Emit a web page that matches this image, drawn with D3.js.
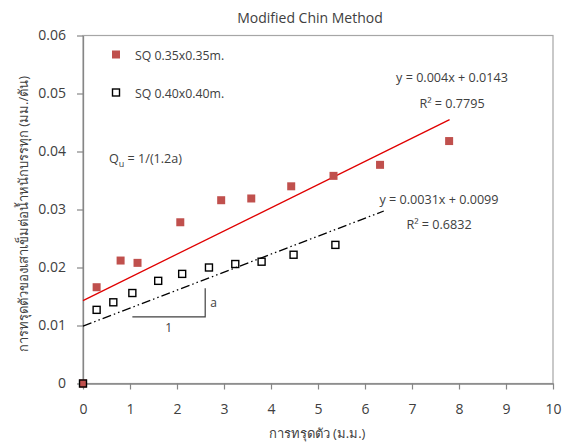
<!DOCTYPE html>
<html><head><meta charset="utf-8">
<script src="https://cdn.jsdelivr.net/npm/d3@7"></script>
<style>
html,body{margin:0;padding:0;background:#fff;}
text{font-family:"Open Sans","Noto Sans","DejaVu Sans",sans-serif;fill:#404040;}
</style></head>
<body><svg id="c" width="566" height="446"></svg>
<script>
// ---- data ----
const titleText = "Modified Chin Method";
const xLabel = "การทรุดตัว (ม.ม.)";
const yLabel = "การทรุดตัวของเสาเข็มต่อน้ำหนักบรรทุก (มม./ตัน)";
const seriesNames = ["SQ 0.35x0.35m.", "SQ 0.40x0.40m."];
const sq35X = [0, 0.29, 0.80, 1.16, 2.07, 2.94, 3.58, 4.43, 5.33, 6.32, 7.79];
const sq35Y = [0, 0.0166, 0.0212, 0.0208, 0.0278, 0.0316, 0.0319, 0.0340, 0.0358, 0.0377, 0.0418];
const sq40X = [0, 0.29, 0.645, 1.05, 1.60, 2.11, 2.68, 3.24, 3.80, 4.48, 5.37];
const sq40Y = [0, 0.0127, 0.0140, 0.0156, 0.0177, 0.0189, 0.0200, 0.0206, 0.0210, 0.0222, 0.0239];
const trendSlope = [0.004, 0.0031];
const trendIntercept = [0.0143, 0.0099];
const trendXEnd = [7.8, 6.4];
const eqLabels = ["y = 0.004x + 0.0143", "y = 0.0031x + 0.0099"];
const r2Labels = ["R² = 0.7795", "R² = 0.6832"];
const xTicks = [0,1,2,3,4,5,6,7,8,9,10];
const yTicks = [0,0.01,0.02,0.03,0.04,0.05,0.06];
const yTickLabels = ["0","0.01","0.02","0.03","0.04","0.05","0.06"];

// ---- layout ----
const svg = d3.select("#c");
const L = 83, R = 553, T = 35.5, B = 383.5;
const x = d3.scaleLinear().domain([0,10]).range([L,R]);
const y = d3.scaleLinear().domain([0,0.06]).range([B,T]);

// plot frame
svg.append("rect").attr("x",L).attr("y",T).attr("width",R-L).attr("height",B-T)
  .attr("fill","none").attr("stroke","#a6a6a6").attr("stroke-width",1.2);

// axes
const xAxis = svg.append("g").attr("transform",`translate(0,${B})`)
  .call(d3.axisBottom(x).tickValues(xTicks).tickFormat(d3.format("d")).tickSize(6).tickSizeOuter(0));
const yAxis = svg.append("g").attr("transform",`translate(${L},0)`)
  .call(d3.axisLeft(y).tickValues(yTicks).tickFormat((d,i)=>yTickLabels[i]).tickSize(6).tickSizeOuter(0));
[xAxis,yAxis].forEach(g=>{
  g.select(".domain").attr("stroke","#868686").attr("stroke-width",1.3);
  g.selectAll(".tick line").attr("stroke","#868686").attr("stroke-width",1.2);
  g.selectAll(".tick text").attr("fill","#404040").style("font-size","14px")
   .style("font-family","'Open Sans',sans-serif");
});
xAxis.selectAll(".tick text").attr("y",21);
yAxis.selectAll(".tick text").attr("x",-17);

// title and axis labels
svg.append("text").attr("x",310).attr("y",23).attr("text-anchor","middle")
  .style("font-size","14px").text(titleText);
svg.append("text").attr("x",317).attr("y",438).attr("text-anchor","middle")
  .style("font-size","13px").text(xLabel);
svg.append("text").attr("transform","translate(28,214) rotate(-90)").attr("text-anchor","middle")
  .style("font-size","13px").text(yLabel);

// trend lines
const lineColors = ["#e00000","#000000"];
const dashes = [null,"9,3,1.5,3,1.5,3"];
trendSlope.forEach((m,i)=>{
  svg.append("line")
    .attr("x1",x(0)).attr("y1",y(trendIntercept[i]))
    .attr("x2",x(trendXEnd[i])).attr("y2",y(trendIntercept[i]+m*trendXEnd[i]))
    .attr("stroke",lineColors[i]).attr("stroke-width",1.3)
    .attr("stroke-dasharray",dashes[i]);
});

// markers
const s35 = sq35X.map((v,i)=>[v,sq35Y[i]]);
const s40 = sq40X.map((v,i)=>[v,sq40Y[i]]);
svg.append("g").selectAll("rect").data(s35).join("rect")
  .attr("x",d=>x(d[0])-4).attr("y",d=>y(d[1])-4).attr("width",8).attr("height",8)
  .attr("fill","#c0504d");
svg.append("g").selectAll("rect").data(s40).join("rect")
  .attr("x",d=>x(d[0])-3.5).attr("y",d=>y(d[1])-3.5).attr("width",7).attr("height",7)
  .attr("fill","none").attr("stroke","#000").attr("stroke-width",1.4);

// legend
svg.append("rect").attr("x",112).attr("y",50.5).attr("width",8).attr("height",8).attr("fill","#c0504d");
svg.append("rect").attr("x",112.5).attr("y",89).attr("width",7).attr("height",7)
  .attr("fill","none").attr("stroke","#000").attr("stroke-width",1.4);
svg.append("text").attr("x",135).attr("y",59.5).style("font-size","12.3px").text(seriesNames[0]);
svg.append("text").attr("x",135).attr("y",97.5).style("font-size","12.3px").text(seriesNames[1]);

// equations
svg.append("text").attr("x",452).attr("y",81.5).attr("text-anchor","middle").style("font-size","12.6px").text(eqLabels[0]);
svg.append("text").attr("x",452).attr("y",107.5).attr("text-anchor","middle").style("font-size","12.6px").text(r2Labels[0]);
svg.append("text").attr("x",439).attr("y",203.5).attr("text-anchor","middle").style("font-size","12.6px").text(eqLabels[1]);
svg.append("text").attr("x",439).attr("y",229).attr("text-anchor","middle").style("font-size","12.6px").text(r2Labels[1]);

// Qu formula
const q = svg.append("text").attr("x",109).attr("y",162.5).style("font-size","12.6px");
q.append("tspan").text("Q");
q.append("tspan").attr("dy",4).style("font-size","9px").text("u");
q.append("tspan").attr("dy",-4).text(" = 1/(1.2a)");

// slope triangle
const triX = [1.05, 2.60], triY = [0.01147, 0.01641];
svg.append("path")
  .attr("d",`M${x(triX[0])},${y(triY[0])}H${x(triX[1])}V${y(triY[1])}`)
  .attr("fill","none").attr("stroke","#404040").attr("stroke-width",1.2);
svg.append("text").attr("x",x((triX[0]+triX[1])/2)).attr("y",y(triY[0])+15).attr("text-anchor","middle")
  .style("font-size","12px").style("fill","#404040").text("1");
svg.append("text").attr("x",x(triX[1])+5).attr("y",y((triY[0]+triY[1])/2)+4)
  .style("font-size","12px").text("a");
</script></body></html>
